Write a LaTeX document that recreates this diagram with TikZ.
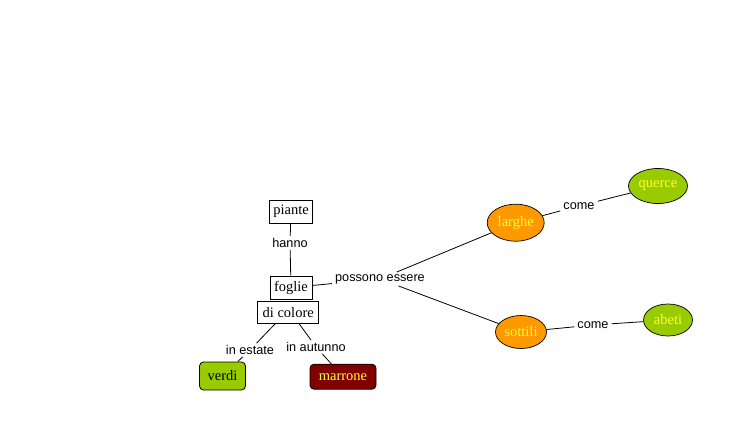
\documentclass[tikz,border=0pt]{standalone}
\usepackage{fontspec}
\setmainfont{Liberation Serif}
\newfontfamily\lblfont{Liberation Sans}
\usetikzlibrary{shapes.geometric}
\definecolor{cgreen}{HTML}{99CC00}
\definecolor{corange}{HTML}{FF9900}
\definecolor{cbrown}{HTML}{800000}
\definecolor{cyel}{HTML}{FFFF33}
\begin{document}
\begin{tikzpicture}[x=1pt,y=-1pt,
  concept/.style={draw=black,line width=0.8pt,fill=white,inner sep=1pt,font=\fontsize{14.5}{16}\selectfont},
  rbox/.style={draw=black,line width=0.8pt,rounded corners=4pt,inner sep=1pt,font=\fontsize{14.5}{16}\selectfont},
  oval/.style={ellipse,draw=black,line width=0.7pt,inner sep=0pt,text=cyel,font=\fontsize{14.5}{16}\selectfont},
  lbl/.style={inner xsep=3pt,inner ysep=2pt,font=\lblfont\fontsize{12.7}{14}\selectfont},
  conn/.style={line width=0.8pt}]
\useasboundingbox (0,0) rectangle (733,431);
\node[concept,minimum width=43pt,minimum height=23pt] (piante) at (291,211.5) {piante};
\node[concept,minimum width=42pt,minimum height=23pt] (foglie) at (291,287.5) {foglie};
\node[concept,minimum width=61pt,minimum height=21.5pt] (colore) at (288.2,312.5) {di colore};
\node[rbox,fill=cgreen,minimum width=46pt,minimum height=28pt] (verdi) at (222.5,376) {verdi};
\node[rbox,fill=cbrown,text=cyel,minimum width=66pt,minimum height=25pt] (marrone) at (343,376.7) {marrone};
\node[oval,fill=corange,minimum width=57pt,minimum height=37pt] (larghe) at (515.7,222.7) {larghe};
\node[oval,fill=cgreen,minimum width=59pt,minimum height=35pt] (querce) at (658,186) {querce};
\node[oval,fill=corange,minimum width=51pt,minimum height=33pt] (sottili) at (521,332) {sottili};
\node[oval,fill=cgreen,minimum width=49pt,minimum height=32pt] (abeti) at (668,320) {abeti};
\node[lbl] (hanno) at (290,243) {hanno};
\node[lbl] (possono) at (380,279) {possono essere};
\node[lbl] (estate) at (250,350) {in estate};
\node[lbl] (autunno) at (316,347) {in autunno};
\node[lbl] (come1) at (579,206) {come};
\node[lbl] (come2) at (593,325) {come};
\draw[conn] (piante) -- (hanno);
\draw[conn] (hanno) -- (foglie);
\draw[conn] (foglie) -- (possono);
\draw[conn] (possono) -- (larghe);
\draw[conn] (possono) -- (sottili);
\draw[conn] (larghe) -- (come1);
\draw[conn] (come1) -- (querce);
\draw[conn] (sottili) -- (come2);
\draw[conn] (come2) -- (abeti);
\path (colore.south west) ++(18,0) coordinate (cs1);
\draw[conn] (cs1) -- (estate);
\draw[conn] (estate) -- (verdi);
\path (colore.south east) ++(-20,0) coordinate (cs2);
\draw[conn] (cs2) -- (autunno);
\draw[conn] (autunno) -- (marrone);
\end{tikzpicture}
\end{document}
